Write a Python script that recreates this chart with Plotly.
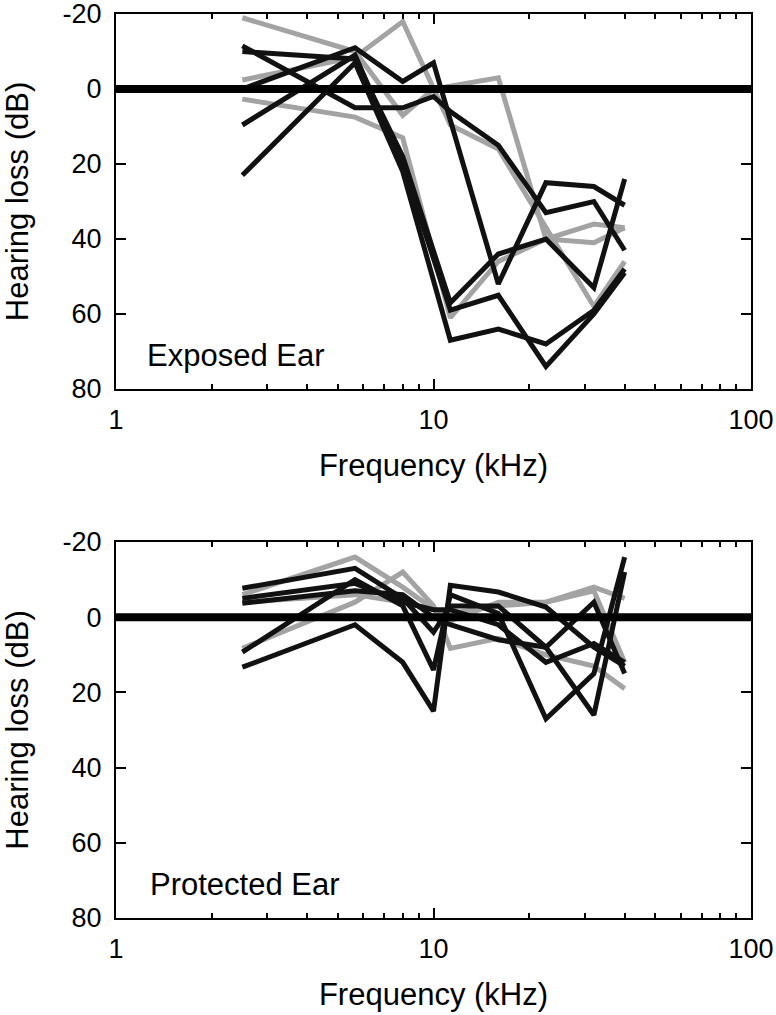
import plotly.graph_objects as go

# Frequencies (kHz)
freq = [2.5, 5.66, 8, 10, 11.3, 16, 22.6, 32, 40]

# Exposed ear (top panel) — hearing loss in dB; None = not measured at that frequency
exp_black = [
    [-11.5, 5, 5, 2, 6, 15, 33, 30, 43],
    [0, -11, -2, -7, None, 52, 25, 26, 31],
    [-10, -8, 18, None, 57, 44, 40, 53, 24],
    [9.6, -9, 20, None, 59, 55, 74, 60, 49],
    [23, -7, 22, None, 67, 64, 68, 59, 48],
]
exp_grey = [
    [-19, -10, 7, 0, None, -3, 40, 41, 37],
    [-2.4, -8.5, -18, None, 9.6, 16, 37, 58, 46],
    [2.7, 7.5, 13, None, 61, 46, 40, 36, 37],
]

# Protected ear (bottom panel)
pro_black = [
    [13.3, 2, 12, 25, -8.5, -6.7, -2.7, 8, 13],
    [9.3, -10, -3, 14, -6, -1, 27, 15, -16],
    [-7.7, -13, -5, 4, -3, -3, 8, 26, -12],
    [-5, -9, -4, -2, -2, 2, 12, 7, 12],
    [-3.7, -7, -6, 0, 2, 6, 8, -4, 15],
]
pro_grey = [
    [-6, -16, -8, -2, 1, -4, -4, -8, -5],
    [8.3, -4, -12, -3, 8.3, 5.6, 10, 13, 19],
    [-4, -6, -4, -2, -1, -3, -4, -7, 12],
]

y_ticks = [-20, 0, 20, 40, 60, 80]
x_ticks = [1, 10, 100]
x_minor = [2, 3, 4, 5, 6, 7, 8, 9, 20, 30, 40, 50, 60, 70, 80, 90]

BLACK = "#111111"
GREY = "#a3a3a3"
FONT = "Liberation Sans"

W, H = 776, 1015

fig = go.Figure()

def add_lines(data, color, xa, ya):
    for row in data:
        fig.add_trace(go.Scatter(
            x=freq, y=row, mode="lines", connectgaps=True,
            line=dict(color=color, width=5),
            xaxis=xa, yaxis=ya, showlegend=False, hoverinfo="skip"))

add_lines(exp_grey, GREY, "x", "y")
add_lines(exp_black, BLACK, "x", "y")
add_lines(pro_grey, GREY, "x2", "y2")
add_lines(pro_black, BLACK, "x2", "y2")

xdom = [116 / W, 751 / W]
top_dom = [1 - 389 / H, 1 - 14 / H]
bot_dom = [1 - 918 / H, 1 - 542 / H]

def xaxis(anchor, domain):
    return dict(
        type="log", range=[0, 2], domain=domain, anchor=anchor, automargin=False,
        tickvals=x_ticks, ticktext=[str(v) for v in x_ticks],
        ticks="inside", ticklen=10, tickwidth=2, tickcolor="black",
        minor=dict(tickvals=x_minor, ticks="inside", ticklen=5, tickwidth=2, tickcolor="black", showgrid=False),
        showline=True, linecolor="black", linewidth=2, mirror="ticks",
        showgrid=False, zeroline=False, ticklabeloverflow="allow",
        tickfont=dict(family=FONT, size=27, color="black"),
        title=dict(text="Frequency (kHz)", font=dict(family=FONT, size=31, color="black"), standoff=20),
        ticklabelstandoff=6,
    )

def yaxis(anchor, domain):
    return dict(
        range=[80, -20], domain=domain, anchor=anchor, automargin=False,
        tickvals=y_ticks, ticktext=[str(v) for v in y_ticks],
        ticks="inside", ticklen=10, tickwidth=2, tickcolor="black",
        showline=True, linecolor="black", linewidth=2, mirror="ticks",
        showgrid=False, zeroline=False, ticklabeloverflow="allow",
        tickfont=dict(family=FONT, size=27, color="black"),
        title=dict(text="Hearing loss (dB)", font=dict(family=FONT, size=31, color="black"), standoff=46),
        ticklabelstandoff=7,
    )

fig.update_layout(
    width=W, height=H,
    margin=dict(l=0, r=0, t=0, b=0, autoexpand=False),
    plot_bgcolor="white", paper_bgcolor="white",
    xaxis=xaxis("y", xdom), yaxis=yaxis("x", top_dom),
    xaxis2=xaxis("y2", xdom), yaxis2=yaxis("x2", bot_dom),
    showlegend=False,
)

# zero reference lines
for xr, yr in [("x domain", "y"), ("x2 domain", "y2")]:
    fig.add_shape(type="line", xref=xr, yref=yr, x0=0, x1=1, y0=0, y1=0,
                  line=dict(color="black", width=8), layer="above")

fig.add_annotation(text="Exposed Ear", xref="x domain", yref="y domain", x=0.045, y=0.09,
                   xanchor="left", yanchor="middle", showarrow=False,
                   font=dict(family=FONT, size=31, color="black"))
fig.add_annotation(text="Protected Ear", xref="x2 domain", yref="y2 domain", x=0.05, y=0.09,
                   xanchor="left", yanchor="middle", showarrow=False,
                   font=dict(family=FONT, size=31, color="black"))

fig.write_html("out.html", config={"displayModeBar": False},
               post_script="document.body.style.margin='0';document.body.style.overflow='hidden';")
